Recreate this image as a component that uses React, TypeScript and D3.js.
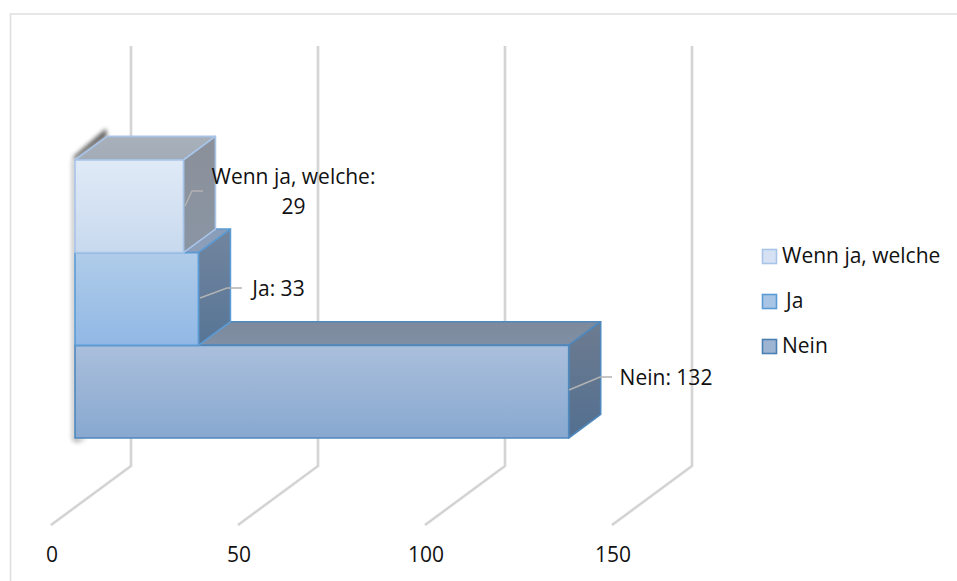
import React from "react";
import * as d3 from "d3";

// Stacked-looking 3D horizontal bars, listed from the front row upwards.
const categories = ["Nein", "Ja", "Wenn ja, welche"];
const values = [132, 33, 29];
const axisTicks = [0, 50, 100, 150];
const legendOrder = ["Wenn ja, welche", "Ja", "Nein"];

const faceColors: Record<string, any> = {
  Nein: { front: ["#aabfdc", "#88a8d0"], top: ["#7d8a9c", "#808fa5"], side: ["#6d7c90", "#536f90"], edge: "#4f88bd", swatch: "#9db4d3", swatchEdge: "#4a7fb2" },
  Ja: { front: ["#b0cce9", "#91b8e5"], top: ["#8a9db8", "#8d9fb9"], side: ["#72859e", "#577596"], edge: "#5b9bd5", swatch: "#a9c5e6", swatchEdge: "#5b9bd5" },
  "Wenn ja, welche": { front: ["#e0eaf7", "#c8d9ee"], top: ["#a8b0ba", "#a3abb7"], side: ["#8b9099", "#8a95a4"], edge: "#a8c4e8", swatch: "#d6e2f3", swatchEdge: "#a8c4e8" },
};

const W = 957;
const H = 581;
const font = "'Open Sans', sans-serif";

// Value axis on the front plane of the floor.
const x = d3.scaleLinear().domain([0, 150]).range([51, 612]);
// Depth runs from the front of the floor (0) to the back wall (1).
const depthX = d3.scaleLinear().domain([0, 1]).range([0, 80]);
const depthY = d3.scaleLinear().domain([0, 1]).range([525, 466]);
const wallTop = 46;
// Bars occupy the middle slice of the depth.
const barDepth: [number, number] = [0.3, 0.7];
const rows = d3.scaleBand().domain(categories).range([438, 160]).paddingInner(0).paddingOuter(0);

const project = (value: number, depth: number, height: number) => [
  x(value) + depthX(depth),
  height + depthY(depth) - depthY(barDepth[0]),
];
const poly = (pts: number[][]) => (d3.line()(pts as [number, number][]) ?? "") + "Z";

function Bar({ name, value }: { name: string; value: number }) {
  const c = faceColors[name];
  const y0 = rows(name)! + rows.bandwidth();
  const y1 = rows(name)!;
  const [d0, d1] = barDepth;
  const id = name.replace(/[^a-zA-Z]/g, "");
  const front = poly([project(0, d0, y0), project(value, d0, y0), project(value, d0, y1), project(0, d0, y1)]);
  const top = poly([project(0, d0, y1), project(value, d0, y1), project(value, d1, y1), project(0, d1, y1)]);
  const side = poly([project(value, d0, y0), project(value, d1, y0), project(value, d1, y1), project(value, d0, y1)]);
  return (
    <g stroke={c.edge} strokeWidth={1.6} strokeLinejoin="round">
      <path d={top} fill={`url(#top-${id})`} />
      <path d={side} fill={`url(#side-${id})`} />
      <path d={front} fill={`url(#front-${id})`} />
    </g>
  );
}

function Gradients() {
  return (
    <defs>
      {categories.map((name) => {
        const id = name.replace(/[^a-zA-Z]/g, "");
        const c = faceColors[name];
        return (
          <React.Fragment key={name}>
            {(["front", "top", "side"] as const).map((face) => (
              <linearGradient key={face} id={`${face}-${id}`} x1="0" y1="0" x2="0" y2="1">
                <stop offset="0" stopColor={c[face][0]} />
                <stop offset="1" stopColor={c[face][1]} />
              </linearGradient>
            ))}
          </React.Fragment>
        );
      })}
      <filter id="soft" x="-60%" y="-30%" width="220%" height="160%">
        <feGaussianBlur stdDeviation="2" />
      </filter>
    </defs>
  );
}

// Gridline on the back wall with its run across the floor.
function GridLine({ tick }: { tick: number }) {
  const pts: [number, number][] = [
    [x(tick) + depthX(1), wallTop],
    [x(tick) + depthX(1), depthY(1)],
    [x(tick) + depthX(0), depthY(0)],
  ];
  const d = d3.line()(pts) ?? "";
  return (
    <g fill="none" strokeLinejoin="miter">
      <path d={d} stroke="#e4e4e4" strokeWidth={3} />
      <path d={d} stroke="#cbcbcb" strokeWidth={1.2} />
    </g>
  );
}

const leaders = [
  { name: "Nein", pts: [[569, 390], [600, 377], [612, 377]] },
  { name: "Ja", pts: [[200, 298], [227, 288], [242, 288]] },
  { name: "Wenn ja, welche", pts: [[185, 206], [192, 191], [203, 191]] },
];

const dataLabels = [
  { lines: [`${categories[0]}: ${values[0]}`], cx: 666, y: [385] },
  { lines: [`${categories[1]}: ${values[1]}`], cx: 278.5, y: [296] },
  { lines: [`${categories[2]}:`, `${values[2]}`], cx: 293.5, y: [184, 214] },
];

export default function App() {
  const [d0, d1] = barDepth;
  const shadowTop = rows(categories[2])!;
  const shadowBottom = rows(categories[0])! + rows.bandwidth();
  const frontTop = project(0, d0, shadowTop);
  const backTop = project(0, d1, shadowTop);
  const frontBottom = project(0, d0, shadowBottom);
  return (
    <svg width={W} height={H} viewBox={`0 0 ${W} ${H}`} style={{ position: "absolute", left: 0, top: 0, display: "block", background: "#fff" }}>
      <Gradients />
      <path d={`M10.5 ${H}V14H${W}`} fill="none" stroke="#dedede" strokeWidth={1.6} />

      {axisTicks.map((t) => (
        <GridLine key={t} tick={t} />
      ))}

      {/* Soft shadow: heavy along the upper-left edge of the top face */}
      <path
        d={poly([backTop, frontTop, [frontTop[0] - 2, frontTop[1] - 3], [backTop[0] - 1, backTop[1] - 8]])}
        fill="#444"
        opacity={0.85}
        filter="url(#soft)"
      />
      {/* Thin shadow down the left side and under the bottom-left corner */}
      <path
        d={poly([
          frontTop,
          frontBottom,
          [frontBottom[0] + 12, frontBottom[1]],
          [frontBottom[0] + 2, frontBottom[1] + 5],
          [frontBottom[0] - 3, frontBottom[1] + 2],
          [frontTop[0] - 3, frontTop[1]],
        ])}
        fill="#777"
        opacity={0.55}
        filter="url(#soft)"
      />

      {categories.map((name, i) => (
        <Bar key={name} name={name} value={values[i]} />
      ))}

      {leaders.map((l) => (
        <path key={l.name} d={d3.line()(l.pts as [number, number][]) ?? ""} fill="none" stroke="#b3b3b3" strokeWidth={1.4} />
      ))}

      <g fontFamily={font} fontSize={21} fill="#111">
        {dataLabels.map((l) =>
          l.lines.map((t, j) => (
            <text key={t} x={l.cx} y={l.y[j]} textAnchor="middle">
              {t}
            </text>
          ))
        )}
        {axisTicks.map((t) => (
          <text key={t} x={x(t) + 1} y={562} textAnchor="middle">
            {t}
          </text>
        ))}
        {legendOrder.map((name, i) => {
          const top = 249 + i * 45;
          const c = faceColors[name];
          return (
            <g key={name}>
              <rect x={762.5} y={top + 0.5} width={14} height={14} fill={c.swatch} stroke={c.swatchEdge} strokeWidth={1.6} />
              <text x={name === "Ja" ? 786 : 782} y={top + 14}>
                {name}
              </text>
            </g>
          );
        })}
      </g>
    </svg>
  );
}
